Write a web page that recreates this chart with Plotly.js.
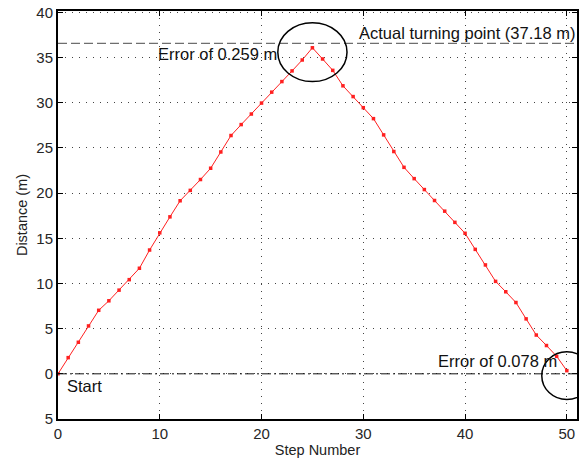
<!DOCTYPE html>
<html>
<head>
<meta charset="utf-8">
<script src="https://cdn.plot.ly/plotly-3.0.1.min.js"></script>
<style>html,body{margin:0;padding:0;background:#fff;}#chart{width:579px;height:463px;}</style>
</head>
<body>
<div id="chart"></div>
<script>
// Step numbers
const steps = [];
for (let i = 0; i <= 50; i++) steps.push(i);
// Estimated distance (m) per step
const distance = [
  0, 1.79, 3.49, 5.30, 7.03, 8.08, 9.26, 10.42, 11.68, 13.70,
  15.60, 17.37, 19.15, 20.30, 21.50, 22.75, 24.55, 26.37, 27.58, 28.75,
  29.96, 31.17, 32.34, 33.52, 34.73, 36.08, 34.84, 33.58, 31.87, 30.68,
  29.45, 28.24, 26.44, 24.60, 22.85, 21.60, 20.39, 19.18, 18.00, 16.76,
  15.55, 13.77, 12.05, 10.23, 9.08, 7.89, 6.08, 4.29, 3.13, 1.94,
  0.35
];
const turningLineY = 36.56;
const startLineY = 0;
const xTicks = [0, 10, 20, 30, 40, 50];
const yTickVals = [-5, 0, 5, 10, 15, 20, 25, 30, 35, 40];
const yTickText = ['5', '0', '5', '10', '15', '20', '25', '30', '35', '40'];
const labels = {
  turning: 'Actual turning point (37.18 m)',
  err1: 'Error of 0.259 m',
  err2: 'Error of 0.078 m',
  start: 'Start'
};

const FONT = 'Liberation Sans, Arial, Helvetica, sans-serif';

const traces = [
  {
    x: steps, y: distance, type: 'scatter', mode: 'lines+markers',
    line: {color: '#ff2020', width: 1},
    marker: {color: '#ff2020', size: 3.5, symbol: 'square'},
    hoverinfo: 'skip', showlegend: false
  }
];

const axisCommon = {
  showline: true, linecolor: '#000', linewidth: 2, mirror: 'ticks',
  ticks: 'inside', ticklen: 5, tickcolor: '#000', tickwidth: 1,
  showgrid: true, gridcolor: '#444', gridwidth: 1, griddash: '1px,6px',
  zeroline: false,
  tickfont: {family: FONT, size: 15, color: '#262626'}
};

const layout = {
  width: 579, height: 463,
  margin: {l: 58, r: 2, t: 11, b: 44},
  paper_bgcolor: '#fff', plot_bgcolor: '#fff',
  showlegend: false,
  xaxis: Object.assign({}, axisCommon, {
    range: [0, 51], tickvals: xTicks,
    title: {text: 'Step Number', font: {family: FONT, size: 14.5, color: '#222'}, standoff: 3}
  }),
  yaxis: Object.assign({}, axisCommon, {
    range: [-5, 40.15], tickvals: yTickVals, ticktext: yTickText,
    title: {text: 'Distance (m)', font: {family: FONT, size: 14.5, color: '#222'}, standoff: 5}
  }),
  shapes: [
    {type: 'line', xref: 'paper', x0: 0, x1: 1, yref: 'y', y0: turningLineY, y1: turningLineY,
     line: {color: '#6e6e6e', width: 1.3, dash: '9px,4px'}},
    {type: 'line', xref: 'paper', x0: 0, x1: 1, yref: 'y', y0: startLineY, y1: startLineY,
     line: {color: '#111', width: 1, dash: '9px,3px,2px,3px'}},
    {type: 'circle', xref: 'x', yref: 'y', x0: 21.6, x1: 28.4, y0: 32.34, y1: 38.84,
     line: {color: '#000', width: 1.5}},
    {type: 'circle', xref: 'x', yref: 'y', x0: 47.54, x1: 52.46, y0: -2.84, y1: 2.44,
     line: {color: '#000', width: 1.5}}
  ],
  annotations: [
    {text: labels.turning, x: 29.4, y: 37.77, xref: 'x', yref: 'y', xanchor: 'left', yanchor: 'middle',
     showarrow: false, font: {family: FONT, size: 16.5, color: '#111'}},
    {text: labels.err1, x: 9.6, y: 35.35, xref: 'x', yref: 'y', xanchor: 'left', yanchor: 'middle',
     showarrow: false, font: {family: FONT, size: 16.5, color: '#111'}},
    {text: labels.err2, x: 37.1, y: 1.45, xref: 'x', yref: 'y', xanchor: 'left', yanchor: 'middle',
     showarrow: false, font: {family: FONT, size: 16.5, color: '#111'}},
    {text: labels.start, x: 0.7, y: -1.32, xref: 'x', yref: 'y', xanchor: 'left', yanchor: 'middle',
     showarrow: false, font: {family: FONT, size: 16.5, color: '#111'}}
  ]
};

Plotly.newPlot('chart', traces, layout, {staticPlot: true, displayModeBar: false});
</script>
</body>
</html>
